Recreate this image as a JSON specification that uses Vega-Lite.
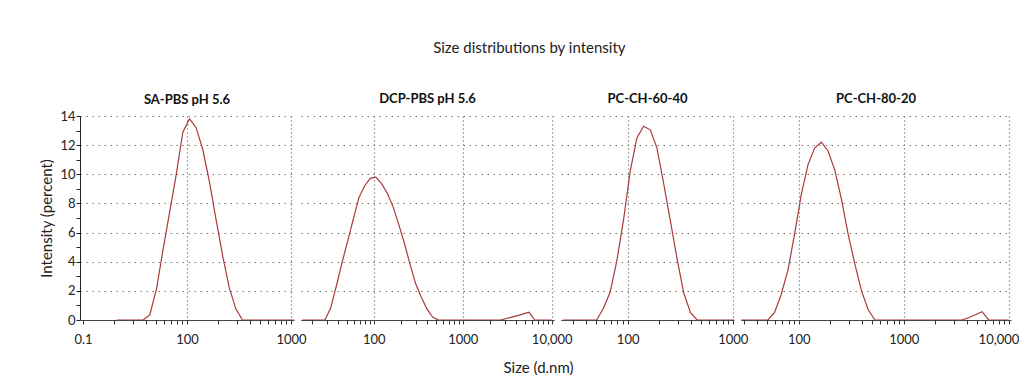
{
  "$schema": "https://vega.github.io/schema/vega-lite/v6.json",
  "padding": {"left": 39, "top": 41, "right": 0, "bottom": 0},
  "background": "white",
  "title": {"text": "Size distributions by intensity", "fontSize": 15, "font": "Lato", "fontWeight": "normal", "color": "#222", "anchor": "middle", "offset": 37},
  "config": {
    "font": "Lato",
    "view": {"stroke": null},
    "title": {"font": "Lato", "fontSize": 13, "fontWeight": "bold", "color": "#111", "offset": 10},
    "axis": {"labelFont": "Lato", "titleFont": "Lato", "labelFontSize": 13, "labelColor": "#222", "titleColor": "#222", "titleFontWeight": "normal", "titleFontSize": 15}
  },
  "bounds": "flush",
  "spacing": 7,
  "data": {"values": [
    {"panel": "SA-PBS pH 5.6", "size": 21.04, "intensity": 0},
    {"panel": "SA-PBS pH 5.6", "size": 24.36, "intensity": 0},
    {"panel": "SA-PBS pH 5.6", "size": 28.21, "intensity": 0},
    {"panel": "SA-PBS pH 5.6", "size": 32.67, "intensity": 0},
    {"panel": "SA-PBS pH 5.6", "size": 37.84, "intensity": 0},
    {"panel": "SA-PBS pH 5.6", "size": 43.82, "intensity": 0.35},
    {"panel": "SA-PBS pH 5.6", "size": 50.75, "intensity": 2.1},
    {"panel": "SA-PBS pH 5.6", "size": 58.77, "intensity": 4.8},
    {"panel": "SA-PBS pH 5.6", "size": 68.06, "intensity": 7.4},
    {"panel": "SA-PBS pH 5.6", "size": 78.82, "intensity": 10.0},
    {"panel": "SA-PBS pH 5.6", "size": 91.28, "intensity": 12.9},
    {"panel": "SA-PBS pH 5.6", "size": 105.7, "intensity": 13.8},
    {"panel": "SA-PBS pH 5.6", "size": 122.4, "intensity": 13.2},
    {"panel": "SA-PBS pH 5.6", "size": 141.8, "intensity": 11.7},
    {"panel": "SA-PBS pH 5.6", "size": 164.2, "intensity": 9.5},
    {"panel": "SA-PBS pH 5.6", "size": 190.1, "intensity": 6.9},
    {"panel": "SA-PBS pH 5.6", "size": 220.2, "intensity": 4.4},
    {"panel": "SA-PBS pH 5.6", "size": 255.0, "intensity": 2.2},
    {"panel": "SA-PBS pH 5.6", "size": 295.3, "intensity": 0.75},
    {"panel": "SA-PBS pH 5.6", "size": 342.0, "intensity": 0},
    {"panel": "SA-PBS pH 5.6", "size": 396.1, "intensity": 0},
    {"panel": "SA-PBS pH 5.6", "size": 458.7, "intensity": 0},
    {"panel": "SA-PBS pH 5.6", "size": 531.2, "intensity": 0},
    {"panel": "SA-PBS pH 5.6", "size": 615.1, "intensity": 0},
    {"panel": "SA-PBS pH 5.6", "size": 712.4, "intensity": 0},
    {"panel": "SA-PBS pH 5.6", "size": 825.0, "intensity": 0},
    {"panel": "SA-PBS pH 5.6", "size": 955.4, "intensity": 0},
    {"panel": "SA-PBS pH 5.6", "size": 1106, "intensity": 0},

    {"panel": "DCP-PBS pH 5.6", "size": 15.69, "intensity": 0},
    {"panel": "DCP-PBS pH 5.6", "size": 18.17, "intensity": 0},
    {"panel": "DCP-PBS pH 5.6", "size": 21.04, "intensity": 0},
    {"panel": "DCP-PBS pH 5.6", "size": 24.36, "intensity": 0},
    {"panel": "DCP-PBS pH 5.6", "size": 28.21, "intensity": 0},
    {"panel": "DCP-PBS pH 5.6", "size": 32.67, "intensity": 0.8},
    {"panel": "DCP-PBS pH 5.6", "size": 37.84, "intensity": 2.3},
    {"panel": "DCP-PBS pH 5.6", "size": 43.82, "intensity": 3.9},
    {"panel": "DCP-PBS pH 5.6", "size": 50.75, "intensity": 5.4},
    {"panel": "DCP-PBS pH 5.6", "size": 58.77, "intensity": 6.9},
    {"panel": "DCP-PBS pH 5.6", "size": 68.06, "intensity": 8.4},
    {"panel": "DCP-PBS pH 5.6", "size": 78.82, "intensity": 9.2},
    {"panel": "DCP-PBS pH 5.6", "size": 91.28, "intensity": 9.72},
    {"panel": "DCP-PBS pH 5.6", "size": 105.7, "intensity": 9.8},
    {"panel": "DCP-PBS pH 5.6", "size": 122.4, "intensity": 9.36},
    {"panel": "DCP-PBS pH 5.6", "size": 141.8, "intensity": 8.7},
    {"panel": "DCP-PBS pH 5.6", "size": 164.2, "intensity": 7.8},
    {"panel": "DCP-PBS pH 5.6", "size": 190.1, "intensity": 6.6},
    {"panel": "DCP-PBS pH 5.6", "size": 220.2, "intensity": 5.3},
    {"panel": "DCP-PBS pH 5.6", "size": 255.0, "intensity": 3.85},
    {"panel": "DCP-PBS pH 5.6", "size": 295.3, "intensity": 2.5},
    {"panel": "DCP-PBS pH 5.6", "size": 342.0, "intensity": 1.56},
    {"panel": "DCP-PBS pH 5.6", "size": 396.1, "intensity": 0.76},
    {"panel": "DCP-PBS pH 5.6", "size": 458.7, "intensity": 0.2},
    {"panel": "DCP-PBS pH 5.6", "size": 531.2, "intensity": 0},
    {"panel": "DCP-PBS pH 5.6", "size": 615.1, "intensity": 0},
    {"panel": "DCP-PBS pH 5.6", "size": 712.4, "intensity": 0},
    {"panel": "DCP-PBS pH 5.6", "size": 825.0, "intensity": 0},
    {"panel": "DCP-PBS pH 5.6", "size": 955.4, "intensity": 0},
    {"panel": "DCP-PBS pH 5.6", "size": 1106, "intensity": 0},
    {"panel": "DCP-PBS pH 5.6", "size": 1281, "intensity": 0},
    {"panel": "DCP-PBS pH 5.6", "size": 1484, "intensity": 0},
    {"panel": "DCP-PBS pH 5.6", "size": 1718, "intensity": 0},
    {"panel": "DCP-PBS pH 5.6", "size": 1990, "intensity": 0},
    {"panel": "DCP-PBS pH 5.6", "size": 2305, "intensity": 0},
    {"panel": "DCP-PBS pH 5.6", "size": 2669, "intensity": 0},
    {"panel": "DCP-PBS pH 5.6", "size": 3091, "intensity": 0.1},
    {"panel": "DCP-PBS pH 5.6", "size": 3580, "intensity": 0.2},
    {"panel": "DCP-PBS pH 5.6", "size": 4145, "intensity": 0.3},
    {"panel": "DCP-PBS pH 5.6", "size": 4801, "intensity": 0.42},
    {"panel": "DCP-PBS pH 5.6", "size": 5560, "intensity": 0.53},
    {"panel": "DCP-PBS pH 5.6", "size": 6439, "intensity": 0},
    {"panel": "DCP-PBS pH 5.6", "size": 7456, "intensity": 0},
    {"panel": "DCP-PBS pH 5.6", "size": 8635, "intensity": 0},
    {"panel": "DCP-PBS pH 5.6", "size": 10000, "intensity": 0},

    {"panel": "PC-CH-60-40", "size": 24.36, "intensity": 0},
    {"panel": "PC-CH-60-40", "size": 28.21, "intensity": 0},
    {"panel": "PC-CH-60-40", "size": 32.67, "intensity": 0},
    {"panel": "PC-CH-60-40", "size": 37.84, "intensity": 0},
    {"panel": "PC-CH-60-40", "size": 43.82, "intensity": 0},
    {"panel": "PC-CH-60-40", "size": 50.75, "intensity": 0},
    {"panel": "PC-CH-60-40", "size": 58.77, "intensity": 0.8},
    {"panel": "PC-CH-60-40", "size": 68.06, "intensity": 1.9},
    {"panel": "PC-CH-60-40", "size": 78.82, "intensity": 4.05},
    {"panel": "PC-CH-60-40", "size": 91.28, "intensity": 6.85},
    {"panel": "PC-CH-60-40", "size": 105.7, "intensity": 10.2},
    {"panel": "PC-CH-60-40", "size": 122.4, "intensity": 12.5},
    {"panel": "PC-CH-60-40", "size": 141.8, "intensity": 13.3},
    {"panel": "PC-CH-60-40", "size": 164.2, "intensity": 13.05},
    {"panel": "PC-CH-60-40", "size": 190.1, "intensity": 11.8},
    {"panel": "PC-CH-60-40", "size": 220.2, "intensity": 9.35},
    {"panel": "PC-CH-60-40", "size": 255.0, "intensity": 6.8},
    {"panel": "PC-CH-60-40", "size": 295.3, "intensity": 4.2},
    {"panel": "PC-CH-60-40", "size": 342.0, "intensity": 1.85},
    {"panel": "PC-CH-60-40", "size": 396.1, "intensity": 0.5},
    {"panel": "PC-CH-60-40", "size": 458.7, "intensity": 0},
    {"panel": "PC-CH-60-40", "size": 531.2, "intensity": 0},
    {"panel": "PC-CH-60-40", "size": 615.1, "intensity": 0},
    {"panel": "PC-CH-60-40", "size": 712.4, "intensity": 0},
    {"panel": "PC-CH-60-40", "size": 825.0, "intensity": 0},
    {"panel": "PC-CH-60-40", "size": 955.4, "intensity": 0},
    {"panel": "PC-CH-60-40", "size": 1106, "intensity": 0},

    {"panel": "PC-CH-80-20", "size": 28.21, "intensity": 0},
    {"panel": "PC-CH-80-20", "size": 32.67, "intensity": 0},
    {"panel": "PC-CH-80-20", "size": 37.84, "intensity": 0},
    {"panel": "PC-CH-80-20", "size": 43.82, "intensity": 0},
    {"panel": "PC-CH-80-20", "size": 50.75, "intensity": 0},
    {"panel": "PC-CH-80-20", "size": 58.77, "intensity": 0.5},
    {"panel": "PC-CH-80-20", "size": 68.06, "intensity": 1.75},
    {"panel": "PC-CH-80-20", "size": 78.82, "intensity": 3.4},
    {"panel": "PC-CH-80-20", "size": 91.28, "intensity": 5.9},
    {"panel": "PC-CH-80-20", "size": 105.7, "intensity": 8.6},
    {"panel": "PC-CH-80-20", "size": 122.4, "intensity": 10.65},
    {"panel": "PC-CH-80-20", "size": 141.8, "intensity": 11.8},
    {"panel": "PC-CH-80-20", "size": 164.2, "intensity": 12.2},
    {"panel": "PC-CH-80-20", "size": 190.1, "intensity": 11.6},
    {"panel": "PC-CH-80-20", "size": 220.2, "intensity": 10.3},
    {"panel": "PC-CH-80-20", "size": 255.0, "intensity": 8.3},
    {"panel": "PC-CH-80-20", "size": 295.3, "intensity": 5.9},
    {"panel": "PC-CH-80-20", "size": 342.0, "intensity": 3.85},
    {"panel": "PC-CH-80-20", "size": 396.1, "intensity": 2.0},
    {"panel": "PC-CH-80-20", "size": 458.7, "intensity": 0.7},
    {"panel": "PC-CH-80-20", "size": 531.2, "intensity": 0},
    {"panel": "PC-CH-80-20", "size": 615.1, "intensity": 0},
    {"panel": "PC-CH-80-20", "size": 712.4, "intensity": 0},
    {"panel": "PC-CH-80-20", "size": 825.0, "intensity": 0},
    {"panel": "PC-CH-80-20", "size": 955.4, "intensity": 0},
    {"panel": "PC-CH-80-20", "size": 1106, "intensity": 0},
    {"panel": "PC-CH-80-20", "size": 1281, "intensity": 0},
    {"panel": "PC-CH-80-20", "size": 1484, "intensity": 0},
    {"panel": "PC-CH-80-20", "size": 1718, "intensity": 0},
    {"panel": "PC-CH-80-20", "size": 1990, "intensity": 0},
    {"panel": "PC-CH-80-20", "size": 2305, "intensity": 0},
    {"panel": "PC-CH-80-20", "size": 2669, "intensity": 0},
    {"panel": "PC-CH-80-20", "size": 3091, "intensity": 0},
    {"panel": "PC-CH-80-20", "size": 3580, "intensity": 0},
    {"panel": "PC-CH-80-20", "size": 4145, "intensity": 0.15},
    {"panel": "PC-CH-80-20", "size": 4801, "intensity": 0.36},
    {"panel": "PC-CH-80-20", "size": 5560, "intensity": 0.57},
    {"panel": "PC-CH-80-20", "size": 6439, "intensity": 0},
    {"panel": "PC-CH-80-20", "size": 7456, "intensity": 0},
    {"panel": "PC-CH-80-20", "size": 8635, "intensity": 0},
    {"panel": "PC-CH-80-20", "size": 10000, "intensity": 0}
  ]},
  "hconcat": [
    {
      "title": {"text": "SA-PBS pH 5.6", "offset": 3},
      "width": 214, "height": 204,
      "transform": [{"filter": "datum.panel == 'SA-PBS pH 5.6'"}],
      "mark": {"type": "line", "color": "#a83a3a", "strokeWidth": 1.2, "clip": true},
      "encoding": {
        "x": {"field": "size", "type": "quantitative",
          "scale": {"type": "log", "domain": [9.35, 1069], "nice": false},
          "axis": {"orient": "bottom", "title": null, "values": [10, 20, 30, 40, 50, 60, 70, 80, 90, 100, 200, 300, 400, 500, 600, 700, 800, 900, 1000],
            "labelExpr": "datum.value == 10 ? '0.1' : datum.value == 100 ? '100' : datum.value == 1000 ? '1000' : ''",
            "labelFlush": false, "labelOverlap": false, "labelPadding": 9, "tickSize": 4, "tickColor": "#333", "domainColor": "#444",
            "grid": true, "gridColor": "#555", "gridDash": [1, 3], "gridWidth": 1.2,
            "gridOpacity": {"condition": {"test": "datum.value == 100 || datum.value == 1000 || datum.value == 10000", "value": 1}, "value": 0}}},
        "y": {"field": "intensity", "type": "quantitative",
          "scale": {"domain": [0, 14], "nice": false},
          "axis": {"title": "Intensity (percent)", "values": [0, 1, 2, 3, 4, 5, 6, 7, 8, 9, 10, 11, 12, 13, 14],
            "labelExpr": "datum.value % 2 == 0 ? datum.label : ''",
            "labelPadding": 1, "tickSize": 4, "tickColor": "#222", "domainColor": "#222", "titlePadding": 5,
            "grid": true, "gridColor": "#777", "gridDash": [1.5, 4.5], "gridWidth": 1.2,
            "gridOpacity": {"condition": {"test": "datum.value % 2 == 0", "value": 1}, "value": 0}}}
      }
    },
    {
      "title": "DCP-PBS pH 5.6",
      "width": 253, "height": 204,
      "transform": [{"filter": "datum.panel == 'DCP-PBS pH 5.6'"}],
      "mark": {"type": "line", "color": "#a83a3a", "strokeWidth": 1.2, "clip": true},
      "encoding": {
        "x": {"field": "size", "type": "quantitative",
          "scale": {"type": "log", "domain": [15.2, 10620], "nice": false},
          "axis": {"orient": "bottom", "title": "Size (d.nm)", "titleX": 237, "titleY": 47, "titleAlign": "center", "titleBaseline": "middle",
            "values": [20, 30, 40, 50, 60, 70, 80, 90, 100, 200, 300, 400, 500, 600, 700, 800, 900, 1000, 2000, 3000, 4000, 5000, 6000, 7000, 8000, 9000, 10000],
            "labelExpr": "datum.value == 100 ? '100' : datum.value == 1000 ? '1000' : datum.value == 10000 ? '10,000' : ''",
            "labelFlush": false, "labelOverlap": false, "labelPadding": 9, "tickSize": 4, "tickColor": "#333", "domainColor": "#444",
            "grid": true, "gridColor": "#555", "gridDash": [1, 3], "gridWidth": 1.2,
            "gridOpacity": {"condition": {"test": "datum.value == 100 || datum.value == 1000 || datum.value == 10000", "value": 1}, "value": 0}}},
        "y": {"field": "intensity", "type": "quantitative",
          "scale": {"domain": [0, 14], "nice": false},
          "axis": {"title": null, "values": [0, 2, 4, 6, 8, 10, 12, 14], "labels": false, "ticks": false, "domain": false,
            "grid": true, "gridColor": "#777", "gridDash": [1.5, 4.5], "gridWidth": 1.2}}
      }
    },
    {
      "title": "PC-CH-60-40",
      "width": 173, "height": 204,
      "transform": [{"filter": "datum.panel == 'PC-CH-60-40'"}],
      "mark": {"type": "line", "color": "#a83a3a", "strokeWidth": 1.2, "clip": true},
      "encoding": {
        "x": {"field": "size", "type": "quantitative",
          "scale": {"type": "log", "domain": [23.2, 1028], "nice": false},
          "axis": {"orient": "bottom", "title": null,
            "values": [30, 40, 50, 60, 70, 80, 90, 100, 200, 300, 400, 500, 600, 700, 800, 900, 1000],
            "labelExpr": "datum.value == 100 ? '100' : datum.value == 1000 ? '1000' : ''",
            "labelFlush": false, "labelOverlap": false, "labelPadding": 9, "tickSize": 4, "tickColor": "#333", "domainColor": "#444",
            "grid": true, "gridColor": "#555", "gridDash": [1, 3], "gridWidth": 1.2,
            "gridOpacity": {"condition": {"test": "datum.value == 100 || datum.value == 1000 || datum.value == 10000", "value": 1}, "value": 0}}},
        "y": {"field": "intensity", "type": "quantitative",
          "scale": {"domain": [0, 14], "nice": false},
          "axis": {"title": null, "values": [0, 2, 4, 6, 8, 10, 12, 14], "labels": false, "ticks": false, "domain": false,
            "grid": true, "gridColor": "#777", "gridDash": [1.5, 4.5], "gridWidth": 1.2}}
      }
    },
    {
      "title": "PC-CH-80-20",
      "width": 270, "height": 204,
      "transform": [{"filter": "datum.panel == 'PC-CH-80-20'"}],
      "mark": {"type": "line", "color": "#a83a3a", "strokeWidth": 1.2, "clip": true},
      "encoding": {
        "x": {"field": "size", "type": "quantitative",
          "scale": {"type": "log", "domain": [28.2, 10500], "nice": false},
          "axis": {"orient": "bottom", "title": null,
            "values": [30, 40, 50, 60, 70, 80, 90, 100, 200, 300, 400, 500, 600, 700, 800, 900, 1000, 2000, 3000, 4000, 5000, 6000, 7000, 8000, 9000, 10000],
            "labelExpr": "datum.value == 100 ? '100' : datum.value == 1000 ? '1000' : datum.value == 10000 ? '10,000' : ''",
            "labelFlush": 5, "labelFlushOffset": 10, "labelOverlap": false, "labelPadding": 9, "tickSize": 4, "tickColor": "#333", "domainColor": "#444",
            "grid": true, "gridColor": "#555", "gridDash": [1, 3], "gridWidth": 1.2,
            "gridOpacity": {"condition": {"test": "datum.value == 100 || datum.value == 1000 || datum.value == 10000", "value": 1}, "value": 0}}},
        "y": {"field": "intensity", "type": "quantitative",
          "scale": {"domain": [0, 14], "nice": false},
          "axis": {"title": null, "values": [0, 2, 4, 6, 8, 10, 12, 14], "labels": false, "ticks": false, "domain": false,
            "grid": true, "gridColor": "#777", "gridDash": [1.5, 4.5], "gridWidth": 1.2}}
      }
    }
  ]
}
